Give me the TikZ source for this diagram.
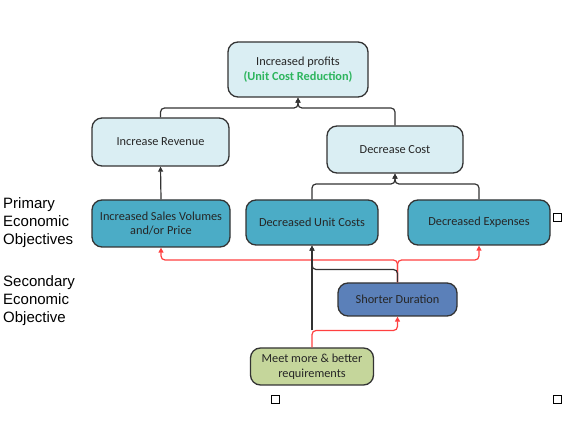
\documentclass[tikz,border=0pt]{standalone}
\usepackage{fontspec}
\setmainfont{Carlito}
\newfontfamily\labelfont{Liberation Sans}
\usetikzlibrary{arrows.meta}
\definecolor{lightbox}{HTML}{DAEEF3}
\definecolor{tealbox}{HTML}{4BACC6}
\definecolor{bluebox}{HTML}{5B80B9}
\definecolor{olivebox}{HTML}{C5D69B}
\definecolor{greentext}{HTML}{2DB55D}
\definecolor{redline}{HTML}{FF4040}
\definecolor{edge}{HTML}{333333}
\tikzset{
  box/.style={draw=edge, line width=1.3pt, rounded corners=10pt, align=center,
    inner sep=2pt, text=black!85, font=\fontsize{12.3}{14.5}\selectfont},
  conn/.style={draw=edge, line width=1.2pt, rounded corners=4pt,
    -{Triangle[length=5pt,width=5pt]}},
  redconn/.style={draw=redline, line width=1.2pt, rounded corners=4pt,
    -{Triangle[length=5pt,width=5pt]}},
  sidelabel/.style={anchor=north west, inner sep=0pt, align=left,
    font=\labelfont\fontsize{15}{18}\selectfont},
  marker/.style={draw=black, line width=0.8pt, minimum size=8pt, inner sep=0pt}
}
\begin{document}
\begin{tikzpicture}[x=1pt,y=-1pt]
\useasboundingbox (0,0) rectangle (571,422);
% boxes
\node[box, fill=lightbox, minimum width=140pt, minimum height=55pt] (top) at (298,69.5)
  {Increased profits\\ \textcolor{greentext}{\bfseries (Unit Cost Reduction)}};
\node[box, fill=lightbox, minimum width=137pt, minimum height=48pt] (rev) at (160.5,142) {Increase Revenue};
\node[box, fill=lightbox, minimum width=136pt, minimum height=47pt] (dc) at (395,149.5) {Decrease Cost};
\node[box, fill=tealbox, minimum width=138pt, minimum height=47pt] (sales) at (161,223.5)
  {Increased Sales Volumes\\ and/or Price};
\node[box, fill=tealbox, minimum width=132pt, minimum height=45pt] (uc) at (312,222.5) {Decreased Unit Costs};
\node[box, fill=tealbox, minimum width=142pt, minimum height=45pt] (exp) at (479,222.5) {Decreased Expenses};
\node[box, fill=bluebox, minimum width=119pt, minimum height=33pt] (sd) at (397.5,299.5) {Shorter Duration};
\node[box, fill=olivebox, minimum width=123pt, minimum height=37pt] (meet) at (312,366.5)
  {Meet more \& better\\ requirements};
% side labels
\node[sidelabel] (prim) at (3,197) {Primary\\ Economic\\ Objectives};
\node[sidelabel] (sec) at (3,275) {Secondary\\ Economic\\ Objective};
% markers
\node[marker] (m1) at (557.5,217.5) {};
\node[marker] (m2) at (275,399) {};
\node[marker] (m3) at (557.5,399) {};
% junction coordinates
\coordinate (tj) at (298,108);
\coordinate (dj) at (395,184);
\coordinate (rj) at (397.5,260);
\coordinate (bj) at (397.5,269.5);
\coordinate (mj) at (312,330.5);
% black connectors (upper)
\draw[conn] (rev.north) |- (tj) -- (top.south);
\draw[conn] (dc.north) |- (tj) -- (top.south);
\draw[conn] (uc.north) |- (dj) -- (dc.south);
\draw[conn] (exp.north) |- (dj) -- (dc.south);
\draw[conn] (sales.north) -- (rev.south);
% red connectors from Shorter Duration
\draw[redconn] (sd.north) -- (rj) -| (sales.south);
\draw[redconn] (sd.north) -- (rj) -| (exp.south);
% black from Meet (junction) to Unit Costs
\draw[conn] (mj) -- (uc.south);
% red from Meet to Shorter Duration
\draw[redconn] (meet.north) -- (mj) -| (sd.south);
% black from Shorter Duration to Unit Costs
\draw[conn] (sd.north) -- (bj) -| (uc.south);
\end{tikzpicture}
\end{document}
